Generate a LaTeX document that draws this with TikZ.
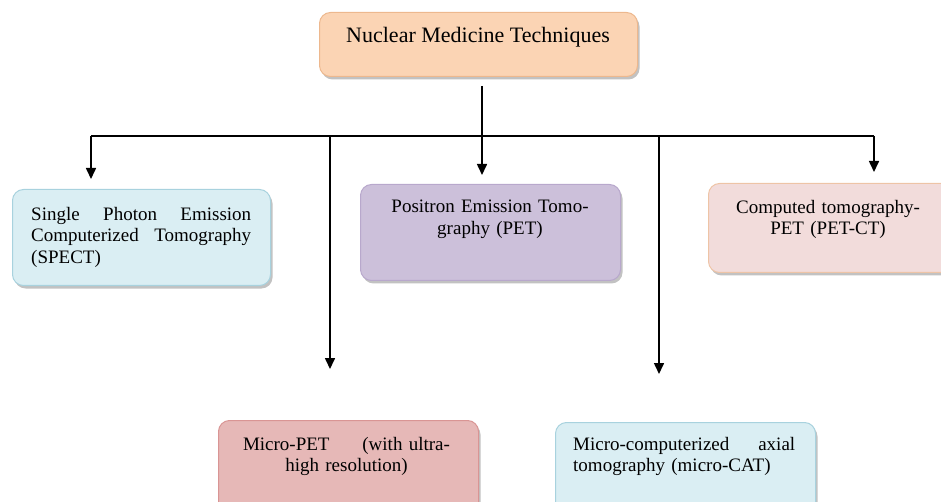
\documentclass[tikz,border=0pt]{standalone}
\usepackage{fontspec}
\setmainfont{Liberation Serif}
\usetikzlibrary{arrows.meta,shadows,calc}
\definecolor{peachfill}{HTML}{FBD4B4}
\definecolor{peachline}{HTML}{EDB88E}
\definecolor{bluefill}{HTML}{DAEEF3}
\definecolor{blueline}{HTML}{A8D2DE}
\definecolor{purplefill}{HTML}{CCC0DA}
\definecolor{purpleline}{HTML}{B8A8CC}
\definecolor{pinkfill}{HTML}{F2DCDB}
\definecolor{pinkline}{HTML}{EEC4A6}
\definecolor{redfill}{HTML}{E6B8B7}
\definecolor{redline}{HTML}{D99594}
\tikzset{
  box/.style={draw, rounded corners=11pt, line width=1pt, anchor=north west,
    inner sep=0pt,
    drop shadow={shadow xshift=2pt, shadow yshift=-3pt, opacity=0.4, fill=black!60}},
  txt/.style={inner sep=0pt, font=\fontsize{19}{21.5}\selectfont},
  conn/.style={line width=1.6pt, draw=black},
  arr/.style={conn, -{Triangle[length=11pt,width=10pt]}},
}
\begin{document}
\begin{tikzpicture}[x=1pt,y=-1pt]
\useasboundingbox (0,0) rectangle (941,502);
\clip (0,0) rectangle (941,502);
% boxes
\node[box, fill=peachfill, draw=peachline, minimum width=318pt, minimum height=64pt] (top) at (319,12) {};
\node[box, fill=bluefill, draw=blueline, minimum width=258pt, minimum height=96pt] (spect) at (12,189) {};
\node[box, fill=purplefill, draw=purpleline, minimum width=260pt, minimum height=96pt] (pet) at (360,184) {};
\node[box, fill=pinkfill, draw=pinkline, minimum width=252pt, minimum height=89pt] (petct) at (708,183) {};
\node[box, fill=redfill, draw=redline, minimum width=260pt, minimum height=100pt] (micropet) at (218,420) {};
\node[box, fill=bluefill, draw=blueline, minimum width=260pt, minimum height=100pt] (microcat) at (555,422) {};
% texts
\node[inner sep=0pt, font=\fontsize{22}{26}\selectfont, anchor=base] (toptxt) at (478,43) {Nuclear Medicine Techniques};
\node[txt, anchor=north west, text width=220pt, align=left] (specttxt) at (31,207)
  {\makebox[220pt][l]{Single\hfill Photon\hfill Emission}\\\makebox[220pt][l]{Computerized\hfill Tomography}\\(SPECT)};
\node[txt, anchor=north, text width=220pt, align=center] (pettxt) at (490,200)
  {Positron Emission Tomo-\\graphy (PET)};
\node[txt, anchor=north, text width=220pt, align=center] (petcttxt) at (828,200)
  {Computed tomography-\\PET (PET-CT)};
\node[txt, anchor=north, text width=207pt, align=center] (micropettxt) at (346.5,437)
  {\makebox[207pt][l]{Micro-PET\hfill(with\ ultra-}\\high resolution)};
\node[txt, anchor=north west, text width=222pt, align=left] (microcattxt) at (573,437)
  {\makebox[222pt][l]{Micro-computerized\hfill axial}\\tomography (micro-CAT)};
% connectors
\coordinate (stemtop) at (482,86);
\coordinate (stembot) at (482,136);
\coordinate (busL) at (91,136);
\coordinate (busR) at (874,136);
\coordinate (jMP) at (330,136);
\coordinate (jMC) at (659,136);
\coordinate (tipS) at (91,179);
\coordinate (tipP) at (482,175);
\coordinate (tipMP) at (330,369);
\coordinate (tipMC) at (659,374);
\coordinate (tipPC) at (874,172);
\draw[line width=2.2pt] (stemtop) -- (stembot);
\draw[conn] (busL) -- (busR);
\draw[arr] (busL) -- (tipS);
\draw[arr] (stembot) -- (tipP);
\draw[arr] (jMP) -- (tipMP);
\draw[arr] (jMC) -- (tipMC);
\draw[arr] (busR) -- (tipPC);
\end{tikzpicture}
\end{document}
